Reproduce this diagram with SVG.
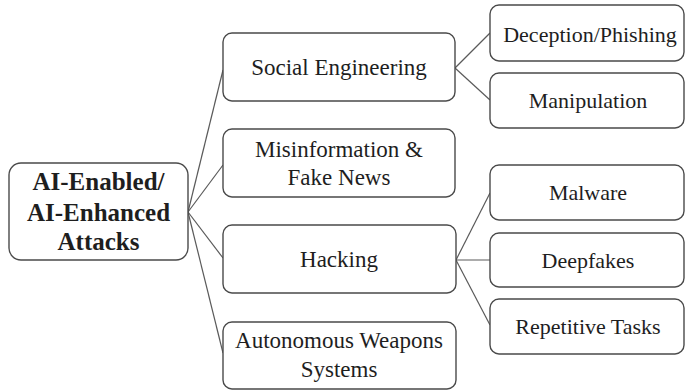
<svg xmlns="http://www.w3.org/2000/svg" width="685" height="391" viewBox="0 0 685 391">
<style>
.nodebox{fill:#fff;stroke:#4a4a4a;stroke-width:1.4}
.conn{stroke:#5a5a5a;stroke-width:1.2;fill:none}
</style>
<rect width="685" height="391" fill="#fff"/>
<g id="connectors">
<line class="conn" x1="188" y1="212" x2="223" y2="70"/>
<line class="conn" x1="188" y1="212" x2="223" y2="165"/>
<line class="conn" x1="188" y1="212" x2="223" y2="258"/>
<line class="conn" x1="188" y1="212" x2="223" y2="353"/>
<line class="conn" x1="455" y1="68" x2="490" y2="33"/>
<line class="conn" x1="455" y1="68" x2="490" y2="100"/>
<line class="conn" x1="456" y1="260" x2="490" y2="193"/>
<line class="conn" x1="456" y1="260" x2="490" y2="260"/>
<line class="conn" x1="456" y1="260" x2="490" y2="325"/>
</g>
<g id="root">
<rect class="nodebox" x="9" y="163" width="179" height="97" rx="12"/>
<text x="98.5" y="190" font-family="Liberation Serif" font-size="25" font-weight="bold" fill="#1e1e1e" text-anchor="middle">AI-Enabled/</text>
<text x="98.5" y="221" font-family="Liberation Serif" font-size="25" font-weight="bold" fill="#1e1e1e" text-anchor="middle">AI-Enhanced</text>
<text x="98.5" y="250" font-family="Liberation Serif" font-size="25" font-weight="bold" fill="#1e1e1e" text-anchor="middle">Attacks</text>
</g>
<g id="social">
<rect class="nodebox" x="223" y="33" width="232" height="68" rx="9"/>
<text x="339" y="75" font-family="Times New Roman" font-size="23" fill="#1e1e1e" text-anchor="middle">Social Engineering</text>
</g>
<g id="misinfo">
<rect class="nodebox" x="223" y="129" width="232" height="68" rx="9"/>
<text x="339" y="157" font-family="Times New Roman" font-size="23" fill="#1e1e1e" text-anchor="middle">Misinformation &amp;</text>
<text x="339" y="185" font-family="Times New Roman" font-size="23" fill="#1e1e1e" text-anchor="middle">Fake News</text>
</g>
<g id="hacking">
<rect class="nodebox" x="223" y="225" width="233" height="68" rx="9"/>
<text x="339" y="267" font-family="Times New Roman" font-size="23" fill="#1e1e1e" text-anchor="middle">Hacking</text>
</g>
<g id="autonomous">
<rect class="nodebox" x="223" y="322" width="233" height="67" rx="9"/>
<text x="339" y="348" font-family="Times New Roman" font-size="23" fill="#1e1e1e" text-anchor="middle">Autonomous Weapons</text>
<text x="339" y="377" font-family="Times New Roman" font-size="23" fill="#1e1e1e" text-anchor="middle">Systems</text>
</g>
<g id="deception">
<rect class="nodebox" x="490" y="5" width="194" height="56" rx="9"/>
<text x="590" y="42" font-family="Times New Roman" font-size="22" fill="#1e1e1e" text-anchor="middle">Deception/Phishing</text>
</g>
<g id="manipulation">
<rect class="nodebox" x="490" y="73" width="194" height="55" rx="9"/>
<text x="588" y="108" font-family="Times New Roman" font-size="22" fill="#1e1e1e" text-anchor="middle">Manipulation</text>
</g>
<g id="malware">
<rect class="nodebox" x="490" y="165" width="194" height="55" rx="9"/>
<text x="588" y="200" font-family="Times New Roman" font-size="22" fill="#1e1e1e" text-anchor="middle">Malware</text>
</g>
<g id="deepfakes">
<rect class="nodebox" x="490" y="233" width="194" height="54" rx="9"/>
<text x="588" y="268" font-family="Times New Roman" font-size="22" fill="#1e1e1e" text-anchor="middle">Deepfakes</text>
</g>
<g id="repetitive">
<rect class="nodebox" x="490" y="299" width="194" height="55" rx="9"/>
<text x="588" y="334" font-family="Times New Roman" font-size="22" fill="#1e1e1e" text-anchor="middle">Repetitive Tasks</text>
</g>
</svg>
